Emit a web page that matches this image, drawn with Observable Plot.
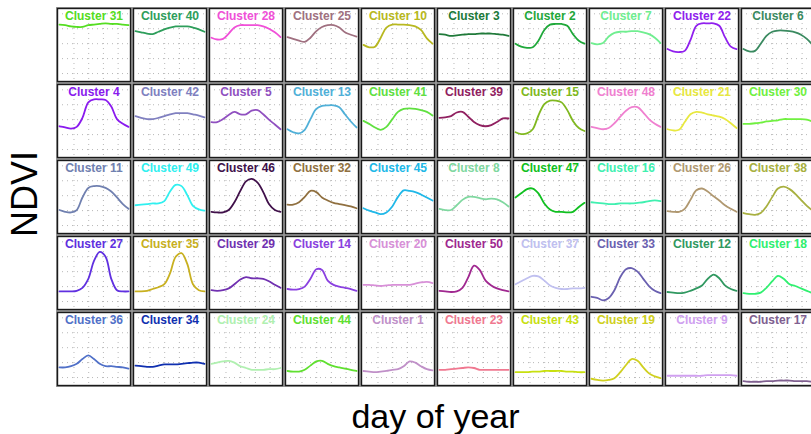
<!DOCTYPE html>
<html>
<head>
<meta charset="utf-8">
<script src="https://cdn.jsdelivr.net/npm/d3@7"></script>
<script src="https://cdn.jsdelivr.net/npm/@observablehq/plot@0.6"></script>
<style>
  html, body { margin: 0; padding: 0; background: #fff; overflow: hidden; }
  #chart svg { max-width: none !important; }
</style>
</head>
<body>
<div id="chart"></div>
<script>
// day-of-year sample positions
const days = [1, 30, 60, 89, 118, 148, 177, 206, 236, 265, 294, 324, 353];
const xTicks = [75, 150, 225, 300];
const yTicks = [0, 0.25, 0.5, 0.75, 1];

// panel order (row by row)
const clusterIds = [31, 40, 28, 25, 10, 3, 2, 7, 22, 6,
                    4, 42, 5, 13, 41, 39, 15, 48, 21, 30,
                    11, 49, 46, 32, 45, 8, 47, 16, 26, 38,
                    27, 35, 29, 14, 20, 50, 37, 33, 12, 18,
                    36, 34, 24, 44, 1, 23, 43, 19, 9, 17];
const clusterColors = ["#55dd22", "#2e9e5b", "#f050d8", "#a07080", "#b8b820", "#207a3a", "#1fa83a", "#70ee90", "#9020ee", "#3a8a60",
                       "#8a1aee", "#8080c0", "#9050c0", "#50b0d8", "#60e040", "#902060", "#80b820", "#f080d0", "#e8e840", "#70f040",
                       "#7080b0", "#30f0f0", "#40104a", "#907040", "#20b8e8", "#80d8a0", "#10c020", "#40f0b0", "#b09870", "#a8b040",
                       "#6030e0", "#c8b020", "#7030b0", "#8a40e0", "#d890d8", "#a02890", "#c0c0f0", "#6a60b0", "#309860", "#30f070",
                       "#5070c8", "#1030b0", "#b0f0b0", "#60e030", "#c090c8", "#f07890", "#c8e010", "#d0d020", "#d0a0f0", "#806090"];

// NDVI profiles
const c31 = [0.82,0.81,0.79,0.78,0.78,0.81,0.82,0.83,0.84,0.83,0.83,0.82,0.81];
const c40 = [0.71,0.69,0.67,0.66,0.70,0.74,0.77,0.79,0.79,0.79,0.77,0.74,0.70];
const c28 = [0.60,0.57,0.58,0.67,0.77,0.81,0.81,0.81,0.81,0.79,0.75,0.69,0.61];
const c25 = [0.61,0.58,0.55,0.53,0.60,0.71,0.78,0.81,0.81,0.77,0.69,0.65,0.62];
const c10 = [0.48,0.44,0.45,0.60,0.77,0.82,0.82,0.82,0.81,0.79,0.73,0.59,0.50];
const c3  = [0.66,0.65,0.63,0.64,0.65,0.66,0.66,0.67,0.67,0.67,0.66,0.65,0.63];
const c2  = [0.50,0.45,0.43,0.44,0.55,0.73,0.82,0.83,0.83,0.80,0.66,0.55,0.50];
const c7  = [0.51,0.49,0.51,0.62,0.68,0.70,0.70,0.71,0.71,0.69,0.66,0.60,0.51];
const c22 = [0.41,0.37,0.36,0.38,0.56,0.80,0.84,0.84,0.84,0.80,0.61,0.45,0.41];
const c6  = [0.41,0.37,0.38,0.50,0.63,0.70,0.72,0.72,0.71,0.69,0.65,0.58,0.48];

const c4  = [0.39,0.37,0.35,0.38,0.53,0.79,0.84,0.84,0.83,0.72,0.51,0.43,0.38];
const c42 = [0.56,0.53,0.51,0.51,0.53,0.56,0.59,0.61,0.61,0.61,0.59,0.57,0.54];
const c5  = [0.46,0.46,0.51,0.58,0.63,0.59,0.59,0.65,0.66,0.59,0.50,0.42,0.34];
const c13 = [0.34,0.29,0.27,0.33,0.51,0.68,0.73,0.74,0.74,0.71,0.59,0.47,0.37];
const c41 = [0.48,0.43,0.37,0.33,0.38,0.51,0.63,0.68,0.69,0.68,0.66,0.63,0.57];
const c39 = [0.53,0.54,0.56,0.62,0.63,0.55,0.46,0.41,0.39,0.41,0.46,0.52,0.52];
const c15 = [0.29,0.26,0.27,0.34,0.57,0.76,0.82,0.82,0.79,0.66,0.48,0.36,0.31];
const c48 = [0.38,0.36,0.34,0.36,0.44,0.55,0.65,0.71,0.71,0.62,0.51,0.43,0.38];
const c21 = [0.34,0.32,0.33,0.46,0.59,0.63,0.62,0.59,0.57,0.55,0.51,0.44,0.36];
const c30 = [0.43,0.43,0.44,0.45,0.47,0.48,0.49,0.51,0.51,0.51,0.51,0.50,0.47];

const c11 = [0.26,0.23,0.22,0.26,0.47,0.63,0.66,0.66,0.63,0.57,0.47,0.36,0.28];
const c49 = [0.34,0.35,0.36,0.37,0.37,0.41,0.57,0.68,0.66,0.51,0.33,0.27,0.25];
const c46 = [0.23,0.22,0.22,0.26,0.39,0.58,0.74,0.78,0.72,0.56,0.36,0.26,0.23];
const c32 = [0.35,0.35,0.39,0.48,0.58,0.56,0.47,0.42,0.38,0.36,0.34,0.32,0.29];
const c45 = [0.29,0.25,0.22,0.19,0.22,0.32,0.48,0.59,0.58,0.56,0.52,0.47,0.42];
const c8  = [0.28,0.26,0.26,0.34,0.43,0.48,0.48,0.46,0.44,0.45,0.44,0.39,0.32];
const c47 = [0.47,0.54,0.61,0.62,0.54,0.37,0.27,0.23,0.23,0.22,0.23,0.31,0.38];
const c16 = [0.39,0.38,0.37,0.36,0.36,0.37,0.37,0.37,0.38,0.39,0.41,0.42,0.41];
const c26 = [0.24,0.23,0.23,0.28,0.43,0.59,0.62,0.57,0.49,0.42,0.34,0.28,0.23];
const c38 = [0.21,0.19,0.18,0.21,0.32,0.48,0.62,0.65,0.61,0.53,0.43,0.33,0.25];

const c27 = [0.17,0.17,0.17,0.18,0.23,0.38,0.68,0.83,0.75,0.38,0.19,0.17,0.17];
const c35 = [0.17,0.17,0.18,0.21,0.24,0.29,0.47,0.75,0.81,0.63,0.29,0.19,0.17];
const c29 = [0.19,0.18,0.19,0.22,0.29,0.37,0.41,0.39,0.39,0.38,0.34,0.28,0.23];
const c14 = [0.21,0.20,0.21,0.25,0.38,0.54,0.53,0.35,0.28,0.25,0.23,0.21,0.18];
const c20 = [0.28,0.28,0.27,0.26,0.27,0.28,0.28,0.28,0.28,0.30,0.32,0.33,0.31];
const c50 = [0.18,0.17,0.16,0.17,0.23,0.41,0.60,0.53,0.35,0.27,0.22,0.19,0.17];
const c37 = [0.29,0.34,0.39,0.43,0.42,0.35,0.27,0.23,0.21,0.21,0.22,0.22,0.23];
const c33 = [0.08,0.06,0.02,0.06,0.19,0.41,0.54,0.56,0.50,0.38,0.26,0.18,0.14];
const c12 = [0.16,0.15,0.14,0.15,0.18,0.22,0.27,0.38,0.45,0.39,0.27,0.21,0.18];
const c18 = [0.14,0.13,0.13,0.15,0.23,0.34,0.43,0.38,0.29,0.26,0.22,0.18,0.14];

const c36 = [0.17,0.17,0.19,0.23,0.31,0.37,0.31,0.23,0.19,0.19,0.18,0.17,0.15];
const c34 = [0.20,0.19,0.18,0.18,0.20,0.22,0.22,0.22,0.23,0.24,0.25,0.25,0.23];
const c24 = [0.23,0.25,0.27,0.28,0.25,0.19,0.16,0.13,0.13,0.13,0.14,0.14,0.16];
const c44 = [0.11,0.10,0.10,0.13,0.20,0.27,0.28,0.23,0.19,0.17,0.15,0.13,0.11];
const c1  = [0.11,0.10,0.09,0.10,0.11,0.13,0.14,0.19,0.27,0.25,0.19,0.14,0.12];
const c23 = [0.13,0.13,0.14,0.15,0.16,0.17,0.16,0.13,0.13,0.13,0.13,0.13,0.13];
const c43 = [0.09,0.09,0.09,0.10,0.10,0.11,0.11,0.11,0.11,0.10,0.10,0.09,0.09];
const c19 = [-0.02,-0.04,-0.05,-0.04,-0.01,0.09,0.21,0.31,0.28,0.17,0.07,0.02,-0.01];
const c9  = [0.03,0.03,0.03,0.03,0.03,0.03,0.03,0.04,0.04,0.04,0.04,0.04,0.03];
const c17 = [-0.06,-0.07,-0.07,-0.07,-0.06,-0.06,-0.05,-0.05,-0.05,-0.06,-0.06,-0.06,-0.07];

const series = [c31, c40, c28, c25, c10, c3, c2, c7, c22, c6,
                c4, c42, c5, c13, c41, c39, c15, c48, c21, c30,
                c11, c49, c46, c32, c45, c8, c47, c16, c26, c38,
                c27, c35, c29, c14, c20, c50, c37, c33, c12, c18,
                c36, c34, c24, c44, c1, c23, c43, c19, c9, c17];

const nCols = 10;
const labels = clusterIds.map((id, i) => ({
  label: "Cluster " + id, color: clusterColors[i],
  col: i % nCols, row: Math.floor(i / nCols)
}));
const points = labels.flatMap((c, i) => days.map((d, j) => ({
  cluster: c.label, color: c.color, col: c.col, row: c.row, day: d, ndvi: series[i][j]
})));

const W = 818, H = 434;
const font = "'Liberation Sans', Arial, sans-serif";

const chart = Plot.plot({
  width: W,
  height: H,
  marginLeft: 57,
  marginRight: 4,
  marginTop: 8,
  marginBottom: 49,
  style: { fontFamily: font, background: "#fff", maxWidth: "none" },
  facet: { data: points, x: "col", y: "row" },
  fx: { axis: null, paddingInner: 0.0395, paddingOuter: 0 },
  fy: { axis: null, paddingInner: 0.0395, paddingOuter: 0 },
  x: { axis: null, domain: [-9, 363] },
  y: { axis: null, domain: [-0.133, 1.089] },
  color: { type: "identity" },
  marks: [
    Plot.gridX(xTicks, { stroke: "#b8b8b8", strokeOpacity: 1, strokeWidth: 1, strokeDasharray: "1,4" }),
    Plot.gridY(yTicks, { stroke: "#b8b8b8", strokeOpacity: 1, strokeWidth: 1, strokeDasharray: "1,4" }),
    Plot.frame({ stroke: "#9a9a9a", strokeWidth: 1, inset: -1 }),
    Plot.frame({ stroke: "#1a1a1a", strokeWidth: 1.4 }),
    Plot.line(points, {
      x: "day", y: "ndvi", z: "cluster",
      stroke: "color", strokeWidth: 1.8, curve: "catmull-rom"
    }),
    Plot.text(labels, {
      fx: "col", fy: "row", text: "label", fill: "color",
      frameAnchor: "top", lineAnchor: "top", dy: 3,
      fontSize: 12, fontWeight: "bold", fontFamily: font
    })
  ]
});
chart.style.maxWidth = "none";
chart.setAttribute("width", W);
chart.setAttribute("height", H);

const svg = d3.select(chart);
svg.append("text")
  .attr("transform", "translate(37,194) rotate(-90)")
  .attr("text-anchor", "middle")
  .style("font-family", font)
  .style("font-size", "36px")
  .attr("fill", "#000")
  .text("NDVI");
svg.append("text")
  .attr("x", 435.5)
  .attr("y", 428)
  .attr("text-anchor", "middle")
  .style("font-family", font)
  .style("font-size", "34px")
  .attr("fill", "#000")
  .text("day of year");

document.getElementById("chart").appendChild(chart);
</script>
</body>
</html>
